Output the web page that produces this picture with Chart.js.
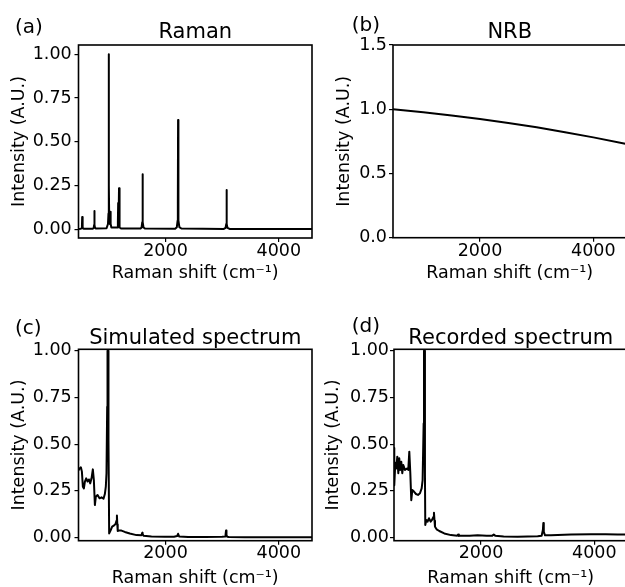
<!DOCTYPE html>
<html>
<head>
<meta charset="utf-8">
<script src="https://cdn.jsdelivr.net/npm/chart.js@4.4.0/dist/chart.umd.min.js"></script>
<style>
html, body { margin: 0; padding: 0; overflow: hidden; background: #fff; }
body { width: 625px; height: 587px; position: relative; }
canvas { position: absolute; }
</style>
</head>
<body>
<canvas id="a" width="320" height="290" style="left:0;top:0"></canvas>
<canvas id="b" width="320" height="290" style="left:320px;top:0"></canvas>
<canvas id="c" width="320" height="300" style="left:0;top:290px"></canvas>
<canvas id="d" width="320" height="300" style="left:320px;top:290px"></canvas>
<script>
const FONT = "'DejaVu Sans', sans-serif";

// shared x axis
const X_MIN = 465, X_MAX = 4585;
const xTicks = [2000, 4000];

// (a) Raman
const ramanShift = [465, 505, 518, 526, 530, 534, 542, 560, 720, 733, 741, 745, 749, 757, 775,
  960, 985, 994, 997, 1000, 1003, 1006, 1018, 1026, 1030, 1034, 1045, 1150, 1160, 1165, 1170,
  1176, 1180, 1184, 1195, 1220, 1560, 1578, 1590, 1595, 1600, 1612, 1640, 2170, 2200, 2214,
  2218, 2222, 2226, 2230, 2245, 2280, 3030, 3060, 3072, 3077, 3082, 3094, 3130, 4585];
const ramanIntensity = [0.002, 0.003, 0.006, 0.02, 0.07, 0.02, 0.006, 0.003, 0.003, 0.008, 0.025, 0.105, 0.025, 0.008, 0.004,
  0.006, 0.03, 0.09, 0.25, 1.0, 0.25, 0.09, 0.03, 0.035, 0.1, 0.03, 0.01, 0.01, 0.04, 0.15, 0.06,
  0.07, 0.235, 0.05, 0.01, 0.004, 0.004, 0.01, 0.04, 0.315, 0.04, 0.01, 0.004, 0.003, 0.012, 0.05,
  0.15, 0.625, 0.15, 0.05, 0.012, 0.004, 0.002, 0.008, 0.03, 0.225, 0.03, 0.008, 0.002, 0.001];
const ramanTicks = [0, 0.25, 0.5, 0.75, 1.0];

// (b) NRB
const nrbShift = [465, 1000, 1500, 2000, 2500, 3000, 3500, 4000, 4585];
const nrbIntensity = [1.0, 0.977, 0.952, 0.924, 0.893, 0.859, 0.821, 0.781, 0.729];
const nrbTicks = [0, 0.5, 1.0, 1.5];

// (c) simulated spectrum
const simShift = [465, 484, 507, 525, 542, 560, 578, 601, 625, 648, 672, 695, 718, 736, 754, 771,
  801, 836, 871, 906, 930, 947, 959, 971, 977, 988, 994, 1006, 1030, 1059, 1094, 1118, 1135, 1143,
  1150, 1157, 1171, 1223, 1282, 1370, 1488, 1576, 1590, 1596, 1611, 1752, 1990, 2150, 2205, 2222,
  2240, 2400, 2700, 3000, 3050, 3060, 3068, 3076, 3090, 3120, 3400, 3800, 4200, 4585];
const simIntensity = [0.36, 0.37, 0.376, 0.353, 0.272, 0.263, 0.30, 0.317, 0.30, 0.311, 0.29, 0.317, 0.365, 0.308, 0.174, 0.219,
  0.228, 0.21, 0.215, 0.208, 0.233, 0.272, 0.344, 0.70, 1.0, 1.0, 0.52, 0.022, 0.037, 0.058, 0.065, 0.072, 0.09, 0.118,
  0.07, 0.035, 0.037, 0.037, 0.03, 0.022, 0.013, 0.012, 0.026, 0.02, 0.01, 0.006, 0.004, 0.004, 0.008, 0.02,
  0.006, 0.003, 0.003, 0.004, 0.006, 0.015, 0.037, 0.012, 0.004, 0.003, 0.002, 0.002, 0.002, 0.002];

// (d) recorded spectrum
const recShift = [465, 470, 488, 506, 523, 541, 558, 576, 594, 611, 629, 658, 694, 717, 735, 753,
  770, 788, 817, 853, 888, 923, 953, 970, 988, 994, 1005, 1011, 1017, 1035, 1058, 1082, 1111, 1135,
  1160, 1170, 1180, 1188, 1217, 1264, 1352, 1470, 1580, 1595, 1610, 1647, 1800, 1941, 2100, 2200,
  2225, 2250, 2400, 2647, 3000, 3070, 3092, 3100, 3108, 3130, 3235, 3588, 3941, 4200, 4411, 4585];
const recIntensity = [0.48, 0.28, 0.40, 0.37, 0.433, 0.344, 0.424, 0.362, 0.406, 0.344, 0.388, 0.362, 0.37, 0.362, 0.46, 0.344,
  0.20, 0.254, 0.246, 0.233, 0.228, 0.237, 0.263, 0.308, 0.61, 1.0, 1.0, 0.344, 0.067, 0.094, 0.085, 0.103, 0.085, 0.094,
  0.11, 0.133, 0.09, 0.058, 0.044, 0.035, 0.022, 0.013, 0.01, 0.016, 0.009, 0.01, 0.009, 0.012, 0.01, 0.01,
  0.016, 0.01, 0.006, 0.0045, 0.007, 0.01, 0.04, 0.078, 0.03, 0.012, 0.012, 0.016, 0.018, 0.017, 0.016, 0.016];
const specTicks = [0, 0.25, 0.5, 0.75, 1.0];

// box round the plot + panel letter
const framePlugin = {
  id: 'frame',
  afterDraw(chart, args, opts) {
    const { ctx, chartArea: c } = chart;
    ctx.save();
    ctx.strokeStyle = '#000';
    ctx.lineWidth = 1.6;
    ctx.strokeRect(c.left, c.top, c.right - c.left, c.bottom - c.top);
    ctx.fillStyle = '#000';
    ctx.font = '20px ' + FONT;
    ctx.textBaseline = 'alphabetic';
    ctx.fillText(opts.label, opts.lx, opts.ly);
    ctx.restore();
  }
};

function panel(id, p) {
  new Chart(document.getElementById(id), {
    type: 'line',
    data: {
      datasets: [{
        data: p.xs.map((x, i) => ({ x: x, y: p.ys[i] })),
        borderColor: '#000',
        borderWidth: 2,
        borderJoinStyle: 'round',
        borderCapStyle: 'round',
        pointRadius: 0,
        tension: 0,
        fill: false
      }]
    },
    options: {
      responsive: false,
      animation: false,
      events: [],
      layout: { padding: { left: 0, right: p.pr, top: 0, bottom: 0 } },
      plugins: {
        legend: { display: false },
        tooltip: { enabled: false },
        title: {
          display: true, text: p.title, fullSize: false, color: '#000',
          font: { family: FONT, size: 21, weight: 'normal', lineHeight: 1 },
          padding: { top: p.tt, bottom: p.tb }
        },
        frame: { label: p.label, lx: p.lx, ly: p.ly }
      },
      scales: {
        x: {
          type: 'linear', min: X_MIN, max: X_MAX,
          afterBuildTicks: s => { s.ticks = xTicks.map(v => ({ value: v })); },
          afterFit: s => { s.height = p.xh; },
          ticks: {
            color: '#000', autoSkip: false, maxRotation: 0, padding: p.xtp,
            font: { family: FONT, size: 17.5, lineHeight: 1 },
            callback: v => String(v)
          },
          grid: { display: true, drawOnChartArea: false, drawTicks: true, tickLength: 4, color: '#000', lineWidth: 1.2 },
          border: { display: false },
          title: {
            display: true, text: 'Raman shift (cm\u207B\u00B9)', color: '#000',
            font: { family: FONT, size: 17.5, lineHeight: 1 },
            padding: { top: 0, bottom: p.xlp }
          }
        },
        y: {
          type: 'linear', min: p.yMin, max: p.yMax,
          afterBuildTicks: s => { s.ticks = p.yTicks.map(v => ({ value: v })); },
          afterFit: s => { s.width = p.yw; },
          ticks: {
            color: '#000', autoSkip: false, padding: p.ytp,
            font: { family: FONT, size: 17.5, lineHeight: 1 },
            callback: v => v.toFixed(p.dec)
          },
          grid: { display: true, drawOnChartArea: false, drawTicks: true, tickLength: 4, color: '#000', lineWidth: 1.2 },
          border: { display: false },
          title: {
            display: true, text: 'Intensity (A.U.)', color: '#000',
            font: { family: FONT, size: 17.5, lineHeight: 1 },
            padding: { top: p.ylp, bottom: 0 }
          }
        }
      }
    },
    plugins: [framePlugin]
  });
}

panel('a', {
  xs: ramanShift, ys: ramanIntensity, yMin: -0.05, yMax: 1.053, yTicks: ramanTicks, dec: 2,
  title: 'Raman', label: '(a)', lx: 15, ly: 32.5,
  yw: 78.5, pr: 8, xh: 52, tt: 22.5, tb: 1.5, xtp: 0.8, xlp: 7.5, ytp: 2.8, ylp: 11.2
});
panel('b', {
  xs: nrbShift, ys: nrbIntensity, yMin: 0, yMax: 1.5, yTicks: nrbTicks, dec: 1,
  title: 'NRB', label: '(b)', lx: 31.7, ly: 30.8,
  yw: 73, pr: 13.5, xh: 52.3, tt: 22.5, tb: 1.5, xtp: 0.8, xlp: 7.5, ytp: 2, ylp: 16.2
});
panel('c', {
  xs: simShift, ys: simIntensity, yMin: -0.017, yMax: 1.008, yTicks: specTicks, dec: 2,
  title: 'Simulated spectrum', label: '(c)', lx: 15, ly: 44,
  yw: 78.5, pr: 8, xh: 49.3, tt: 38.3, tb: 0, xtp: 0, xlp: 2.7, ytp: 2.8, ylp: 11.2
});
panel('d', {
  xs: recShift, ys: recIntensity, yMin: -0.017, yMax: 1.008, yTicks: specTicks, dec: 2,
  title: 'Recorded spectrum', label: '(d)', lx: 31.7, ly: 42.4,
  yw: 74, pr: 12.5, xh: 49.3, tt: 38.3, tb: 0, xtp: 0, xlp: 2.7, ytp: 1, ylp: 5.2
});
</script>
</body>
</html>
